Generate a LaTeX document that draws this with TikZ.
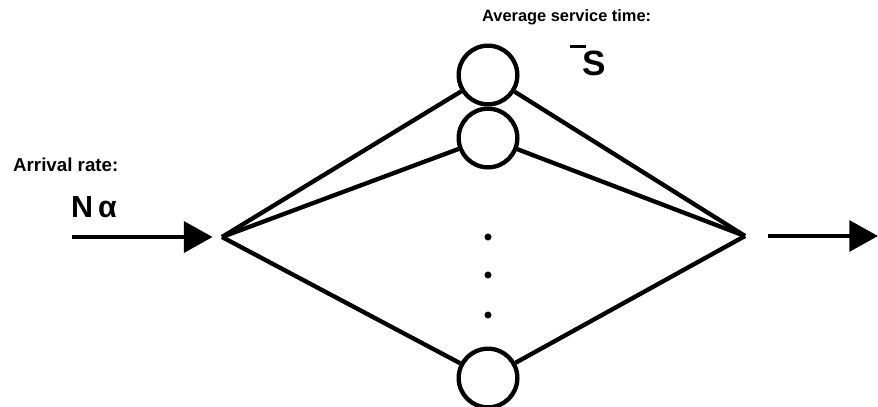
\documentclass[tikz,border=0pt]{standalone}
\usepackage{fontspec}
\setmainfont{Liberation Sans}
\usetikzlibrary{arrows.meta}
\usetikzlibrary{positioning}

\begin{document}
\begin{tikzpicture}[x=0.03cm, y=-0.03cm, line width=3.7pt,
    server/.style={circle, draw, minimum size=1.76cm, inner sep=0pt},
    dot/.style={circle, fill=black, inner sep=0pt, minimum size=6pt},
    flow/.style={-{Triangle[length=0.86cm, width=0.92cm]}},
    lbl/.style={font=\bfseries\fontsize{14}{16}\selectfont, inner sep=0pt}]
        % Define the column of the servers
        \def\sx{488}

        \useasboundingbox (0,0) rectangle (878,406);

        % Junction points
        \coordinate (src) at (72,237);
        \coordinate (split) at (222,237);
        \coordinate (merge) at (745,236);
        \coordinate (sink) at (878,236);

        % Draw the servers
        \node[server] (s1) at (\sx,75) {};
        \node[server] (s2) at (\sx,138) {};
        \node[server] (sN) at (\sx,378) {};

        % Dots between the servers
        \foreach \i/\y in {1/237, 2/275, 3/315}
        {
          \node[dot] (d\i) at (\sx,\y) {};
        }

        % Connect the servers to the junctions
        \foreach \s in {s1, s2, sN}
        {
          \draw (split) -- (\s);
          \draw (\s) -- (merge);
        }

        \draw[flow] (src) -- ([xshift=-8]split);
        \draw[flow] ([xshift=20]merge) -- (sink);

        % Labels
        \node[lbl, anchor=west, font=\bfseries\fontsize{16}{18}\selectfont] (arr) at (11,165) {Arrival rate:};
        \node[inner sep=0pt, anchor=west, font=\bfseries\fontsize{26}{28}\selectfont] (rate) at (69,207) {N\,α};
        \node[lbl, anchor=west] (avg) at (480,17) {Average service time:};
        \node[inner sep=0pt, font=\bfseries\fontsize{30}{32}\selectfont] (mean) at (594,63) {S};
        \draw[line width=2.6pt] ([xshift=-9pt, yshift=2pt]mean.north west) -- ([xshift=5pt, yshift=2pt]mean.north west);
      \end{tikzpicture}
\end{document}
